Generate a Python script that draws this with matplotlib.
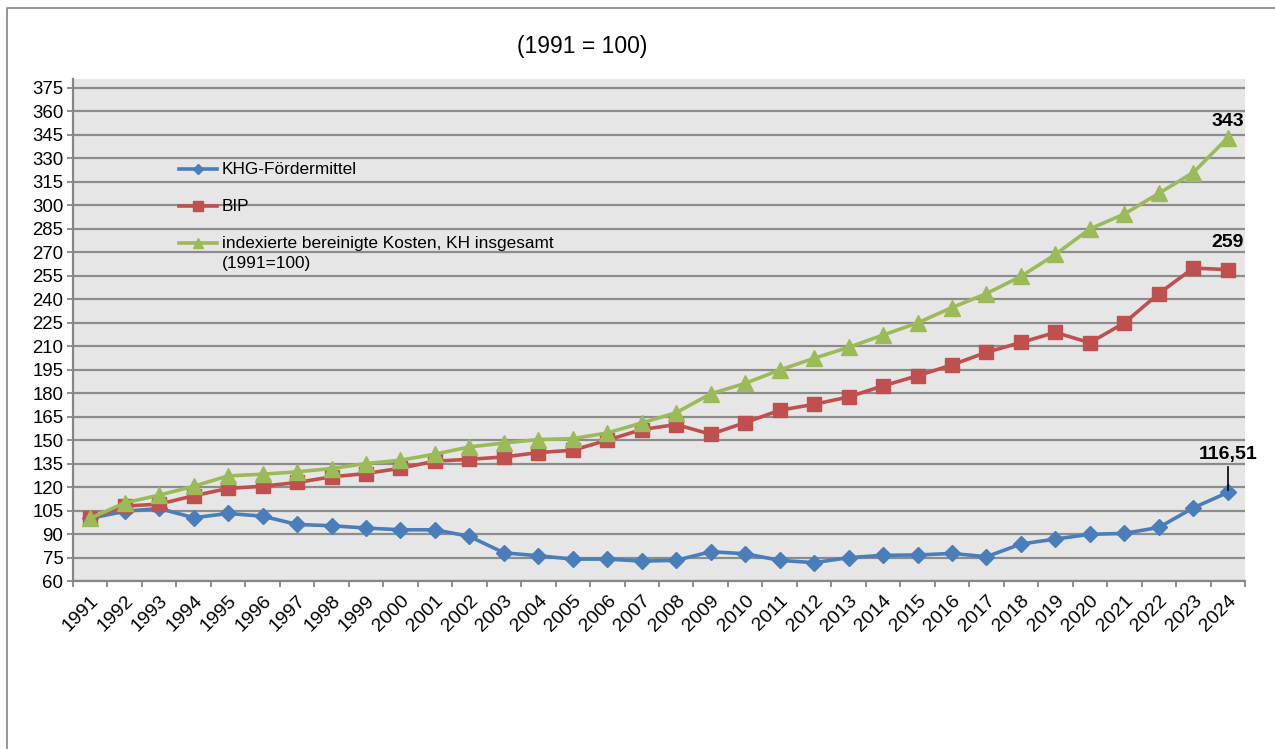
import numpy as np
import matplotlib
matplotlib.use("Agg")
import matplotlib.pyplot as plt
from matplotlib.lines import Line2D

plt.rcParams['font.family'] = ['Liberation Sans', 'DejaVu Sans']

# Daten (1991 = 100)
years = list(range(1991, 2025))
khg = [100, 104.5, 106.3, 100.4, 103.1, 101.4, 96.1, 95.3, 93.8, 92.7,
       92.7, 88.5, 78.0, 76.1, 74.0, 74.0, 72.7, 73.2, 78.7, 77.4,
       73.2, 71.7, 74.9, 76.4, 76.6, 77.6, 75.5, 83.6, 86.8, 89.8,
       90.4, 94.2, 106.7, 116.51]
bip = [100, 107.8, 109.1, 114.4, 119.1, 120.5, 122.9, 126.5, 128.6, 132.0,
       136.5, 137.7, 139.2, 142.0, 143.5, 149.9, 156.7, 159.9, 153.7, 161.1,
       169.0, 172.8, 177.5, 184.6, 191.0, 198.0, 206.0, 212.3, 218.7, 212.1,
       224.8, 243.5, 259.8, 258.8]
kosten = [100, 109.9, 114.8, 120.5, 127.1, 128.2, 129.7, 131.8, 135.0, 137.1,
          141.0, 145.6, 148.1, 150.3, 150.9, 154.5, 160.9, 167.5, 179.5, 186.2,
          194.7, 202.2, 209.2, 217.0, 224.8, 234.6, 243.5, 254.5, 268.5, 284.8,
          294.3, 307.5, 320.8, 343]
labels = ["KHG-Fördermittel", "BIP",
          "indexierte bereinigte Kosten, KH insgesamt\n(1991=100)"]
yticks = list(range(60, 376, 15))

c_blue = '#4A7EBB'
c_red = '#C0504D'
c_green = '#9BBB59'
gridc = '#8C8C8C'

fig = plt.figure(figsize=(12.75, 7.49), dpi=100)
ax = fig.add_axes([73/1275, 1-581/749, 1172/1275, 502/749])
ax.set_facecolor('#E6E6E6')

x = np.arange(len(years))
ax.plot(x, khg, color=c_blue, lw=2.6, marker='D', ms=8, zorder=3)
ax.plot(x, bip, color=c_red, lw=2.6, marker='s', ms=10.5, zorder=4)
ax.plot(x, kosten, color=c_green, lw=2.6, marker='^', ms=11, zorder=5)

ax.set_xlim(-0.5, len(years) - 0.5)
ax.set_ylim(60, 380.5)
ax.set_yticks(yticks)
ax.set_xticks(x)
ax.set_xticklabels([str(y) for y in years], rotation=45, ha='right',
                   rotation_mode='anchor', fontsize=14)
ax.set_xticks(np.arange(-0.5, len(years), 1), minor=True)
ax.tick_params(axis='x', which='major', length=0, pad=8)
ax.tick_params(axis='x', which='minor', length=4, width=1.3, color='#868686')
ax.tick_params(axis='y', length=4, width=1.3, color='#868686', labelsize=13.4, pad=3)
ax.grid(axis='y', color=gridc, lw=1.6, zorder=0)
ax.set_axisbelow(True)
for s in ['top', 'right']:
    ax.spines[s].set_visible(False)
for s in ['left', 'bottom']:
    ax.spines[s].set_color('#868686')
    ax.spines[s].set_linewidth(1.6)

# Legende (manuell im Diagramm)
leg_rows = [0.8207, 0.747, 0.673]
for lab, col, mk, ms, yy in zip(labels, [c_blue, c_red, c_green], ['D', 's', '^'],
                                [5, 7, 7], leg_rows):
    ax.add_line(Line2D([0.0904, 0.1229], [yy, yy], transform=ax.transAxes,
                       color=col, lw=2.6, zorder=6))
    ax.add_line(Line2D([0.1066], [yy], transform=ax.transAxes, color=col,
                       marker=mk, ms=ms, zorder=7))
    first, *rest = lab.split('\n')
    ax.text(0.1271, yy, first, transform=ax.transAxes, fontsize=12.4, va='center')
    if rest:
        ax.text(0.1271, yy - 0.04, rest[0], transform=ax.transAxes,
                fontsize=12.4, va='center')

# Datenbeschriftungen
ax.annotate("343", (x[-1], kosten[-1]), xytext=(0, 16), textcoords='offset pixels',
            ha='center', va='center', fontsize=14, fontweight='bold')
ax.annotate("259", (x[-1], bip[-1]), xytext=(0, 27), textcoords='offset pixels',
            ha='center', va='center', fontsize=14, fontweight='bold')
ax.annotate("116,51", (x[-1], khg[-1]), xytext=(0, 38), textcoords='offset pixels',
            ha='center', va='center', fontsize=14, fontweight='bold')
ax.add_line(Line2D([x[-1], x[-1]], [khg[-1] + 1.5, khg[-1] + 16],
                   color='black', lw=1.2, zorder=8))

fig.text(582/1275, 1-47/749, "(1991 = 100)", ha='center', va='center', fontsize=16.5)

# Rahmen
fig.add_artist(Line2D([7/1275, 7/1275, 1.0], [0.0, 1-8/749, 1-8/749],
                      transform=fig.transFigure, color='#8C8C8C', lw=1.3))

fig.savefig("out.png", dpi=100, facecolor='white')
